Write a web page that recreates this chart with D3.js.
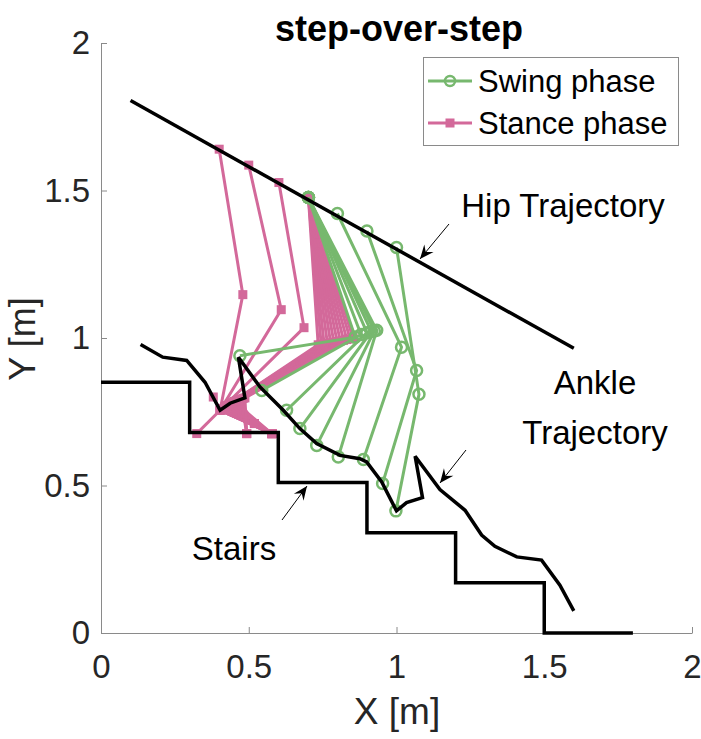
<!DOCTYPE html>
<html>
<head>
<meta charset="utf-8">
<script src="https://cdn.jsdelivr.net/npm/d3@7"></script>
<style>
  body { margin: 0; background: #fff; }
  svg text { font-family: "Liberation Sans", Arial, Helvetica, sans-serif; }
</style>
</head>
<body>
<div id="chart"></div>
<script>
// stairs profile
const stairsX = [0, 0.3, 0.3, 0.6, 0.6, 0.9, 0.9, 1.2, 1.2, 1.5, 1.5, 1.8];
const stairsY = [0.85, 0.85, 0.68, 0.68, 0.51, 0.51, 0.34, 0.34, 0.17, 0.17, 0, 0];

// hip trajectory (straight line)
const hipX = [0.1, 1.6];
const hipY = [1.805, 0.965];

// ankle trajectory
const ankleX = [0.134, 0.209, 0.29, 0.352, 0.403, 0.437, 0.487, 0.465, 0.538, 0.617, 0.673, 0.73, 0.809, 0.876, 0.899, 0.95, 1.0, 1.034, 1.088, 1.063, 1.147, 1.232, 1.288, 1.333, 1.407, 1.491, 1.553, 1.6];
const ankleY = [0.978, 0.935, 0.924, 0.85, 0.755, 0.779, 0.797, 0.935, 0.834, 0.755, 0.693, 0.642, 0.602, 0.591, 0.58, 0.512, 0.414, 0.442, 0.459, 0.599, 0.486, 0.416, 0.332, 0.294, 0.258, 0.247, 0.162, 0.075];

// swing phase frames: hip -> knee -> ankle
const swingX = [
  [0.702, 0.86, 0.47],
  [0.702, 0.88, 0.544],
  [0.702, 0.9, 0.628],
  [0.702, 0.915, 0.673],
  [0.702, 0.925, 0.73],
  [0.702, 0.933, 0.803],
  [0.8, 1.017, 0.888],
  [0.9, 1.068, 0.953],
  [1.0, 1.076, 0.998]
];
const swingY = [
  [1.476, 1.003, 0.94],
  [1.476, 1.012, 0.822],
  [1.476, 1.018, 0.755],
  [1.476, 1.022, 0.693],
  [1.476, 1.024, 0.636],
  [1.476, 1.026, 0.597],
  [1.422, 0.969, 0.588],
  [1.363, 0.89, 0.507],
  [1.307, 0.809, 0.414]
];

// stance phase frames: hip -> knee -> ankle -> toe
const stanceX = [
  [0.4, 0.48, 0.403, 0.578],
  [0.5, 0.61, 0.403, 0.578],
  [0.602, 0.687, 0.403, 0.578],
  [0.702, 0.735, 0.403, 0.578],
  [0.702, 0.745, 0.41, 0.578],
  [0.702, 0.755, 0.418, 0.578],
  [0.702, 0.766, 0.426, 0.578],
  [0.702, 0.777, 0.434, 0.578],
  [0.702, 0.788, 0.442, 0.578],
  [0.702, 0.799, 0.45, 0.578],
  [0.702, 0.81, 0.458, 0.519],
  [0.702, 0.821, 0.466, 0.519],
  [0.702, 0.832, 0.474, 0.493],
  [0.702, 0.843, 0.481, 0.493],
  [0.702, 0.853, 0.487, 0.493]
];
const stanceY = [
  [1.64, 1.147, 0.755, 0.676],
  [1.586, 1.096, 0.755, 0.676],
  [1.527, 1.035, 0.755, 0.676],
  [1.476, 0.977, 0.755, 0.676],
  [1.476, 0.979, 0.761, 0.676],
  [1.476, 0.98, 0.766, 0.676],
  [1.476, 0.982, 0.771, 0.676],
  [1.476, 0.984, 0.776, 0.676],
  [1.476, 0.986, 0.781, 0.676],
  [1.476, 0.988, 0.785, 0.676],
  [1.476, 0.99, 0.788, 0.71],
  [1.476, 0.992, 0.791, 0.71],
  [1.476, 0.995, 0.793, 0.676],
  [1.476, 0.997, 0.795, 0.676],
  [1.476, 1.0, 0.797, 0.676]
];
// heel marks on the step
const heelX = [0.324, 0.38];
const heelY = [0.676, 0.8];

const xTicks = [0, 0.5, 1, 1.5, 2];
const yTicks = [0, 0.5, 1, 1.5, 2];

const green = "#77b86e";
const pink = "#d3699a";

const w = 701, h = 739;
const x = d3.scaleLinear().domain([0, 2]).range([101, 692]);
const y = d3.scaleLinear().domain([0, 2]).range([633, 43]);

const svg = d3.select("#chart").append("svg")
  .attr("width", w).attr("height", h);

const line = d3.line().x(d => x(d[0])).y(d => y(d[1]));
const zip = (xs, ys) => xs.map((v, i) => [v, ys[i]]);

// axes
const xAxis = d3.axisBottom(x).tickValues(xTicks).tickSizeInner(-6).tickSizeOuter(0).tickPadding(22).tickFormat(d3.format(""));
const yAxis = d3.axisLeft(y).tickValues(yTicks).tickSizeInner(-6).tickSizeOuter(0).tickPadding(11).tickFormat(d3.format(""));

const gx = svg.append("g").attr("transform", "translate(0," + y(0) + ")").call(xAxis);
const gy = svg.append("g").attr("transform", "translate(" + x(0) + ",0)").call(yAxis);
[gx, gy].forEach(g => {
  g.select(".domain").attr("stroke", "#8a8a8a").attr("stroke-width", 1);
  g.selectAll(".tick line").attr("stroke", "#8a8a8a");
  g.selectAll(".tick text").attr("fill", "#262626").style("font-size", "33px");
});

// stance legs
stanceX.forEach((xs, i) => {
  const pts = zip(xs, stanceY[i]);
  svg.append("path").attr("d", line(pts)).attr("fill", "none")
    .attr("stroke", pink).attr("stroke-width", 3);
  svg.selectAll(null).data(pts).enter().append("rect")
    .attr("x", d => x(d[0]) - 4.5).attr("y", d => y(d[1]) - 4.5)
    .attr("width", 9).attr("height", 9).attr("fill", pink);
});
zip(heelX, heelY).forEach(d => {
  svg.append("path").attr("d", line([[stanceX[0][2], stanceY[0][2]], d]))
    .attr("stroke", pink).attr("stroke-width", 3).attr("fill", "none");
  svg.append("rect").attr("x", x(d[0]) - 4.5).attr("y", y(d[1]) - 4.5)
    .attr("width", 9).attr("height", 9).attr("fill", pink);
});

// swing legs
swingX.forEach((xs, i) => {
  const pts = zip(xs, swingY[i]);
  svg.append("path").attr("d", line(pts)).attr("fill", "none")
    .attr("stroke", green).attr("stroke-width", 3);
  svg.selectAll(null).data(pts).enter().append("circle")
    .attr("cx", d => x(d[0])).attr("cy", d => y(d[1])).attr("r", 5.5)
    .attr("fill", "none").attr("stroke", green).attr("stroke-width", 2.5);
});

// black lines
svg.append("path").attr("d", line(zip(stairsX, stairsY))).attr("fill", "none")
  .attr("stroke", "#000").attr("stroke-width", 3.5);
svg.append("path").attr("d", line(zip(hipX, hipY))).attr("fill", "none")
  .attr("stroke", "#000").attr("stroke-width", 3.5);
svg.append("path").attr("d", line(zip(ankleX, ankleY))).attr("fill", "none")
  .attr("stroke", "#000").attr("stroke-width", 3.5);

// annotation arrows
function arrow(x1, y1, x2, y2) {
  svg.append("line").attr("x1", x1).attr("y1", y1).attr("x2", x2).attr("y2", y2)
    .attr("stroke", "#000").attr("stroke-width", 1);
  const a = Math.atan2(y2 - y1, x2 - x1), L = 14, W = 6, B = 9;
  const p = [
    [x2, y2],
    [x2 - L * Math.cos(a) + W * Math.sin(a), y2 - L * Math.sin(a) - W * Math.cos(a)],
    [x2 - B * Math.cos(a), y2 - B * Math.sin(a)],
    [x2 - L * Math.cos(a) - W * Math.sin(a), y2 - L * Math.sin(a) + W * Math.cos(a)]
  ];
  svg.append("path").attr("d", "M" + p.join("L") + "Z").attr("fill", "#000");
}
arrow(449, 224, 420, 259);
arrow(466, 450, 440, 483);
arrow(282, 520, 307, 486);

const ann = [
  ["Hip Trajectory", 563, 217],
  ["Ankle", 595, 394],
  ["Trajectory", 595, 444],
  ["Stairs", 234, 560]
];
ann.forEach(a => svg.append("text").attr("x", a[1]).attr("y", a[2])
  .attr("text-anchor", "middle").style("font-size", "33px").attr("fill", "#000").text(a[0]));

// legend
const lg = svg.append("g");
lg.append("rect").attr("x", 423.5).attr("y", 57.5).attr("width", 255).attr("height", 88)
  .attr("fill", "#fff").attr("stroke", "#8a8a8a").attr("stroke-width", 1);
const legItems = [["Swing phase", green, "circle"], ["Stance phase", pink, "square"]];
legItems.forEach((it, i) => {
  const yy = 81 + i * 42;
  lg.append("line").attr("x1", 428).attr("x2", 472).attr("y1", yy).attr("y2", yy)
    .attr("stroke", it[1]).attr("stroke-width", 3);
  if (it[2] === "circle") {
    lg.append("circle").attr("cx", 450).attr("cy", yy).attr("r", 5)
      .attr("fill", "none").attr("stroke", it[1]).attr("stroke-width", 2.5);
  } else {
    lg.append("rect").attr("x", 445.5).attr("y", yy - 4.5).attr("width", 9).attr("height", 9).attr("fill", it[1]);
  }
  lg.append("text").attr("x", 478).attr("y", yy + 11).style("font-size", "31px")
    .attr("fill", "#000").text(it[0]);
});

// title and axis labels
svg.append("text").attr("x", 399).attr("y", 41).attr("text-anchor", "middle")
  .style("font-size", "36px").style("font-weight", "bold").attr("fill", "#000").text("step-over-step");
svg.append("text").attr("x", 397).attr("y", 724).attr("text-anchor", "middle")
  .style("font-size", "37px").attr("fill", "#262626").text("X [m]");
svg.append("text").attr("transform", "translate(35,339) rotate(-90)").attr("text-anchor", "middle")
  .style("font-size", "36px").attr("fill", "#262626").text("Y [m]");
</script>
</body>
</html>
